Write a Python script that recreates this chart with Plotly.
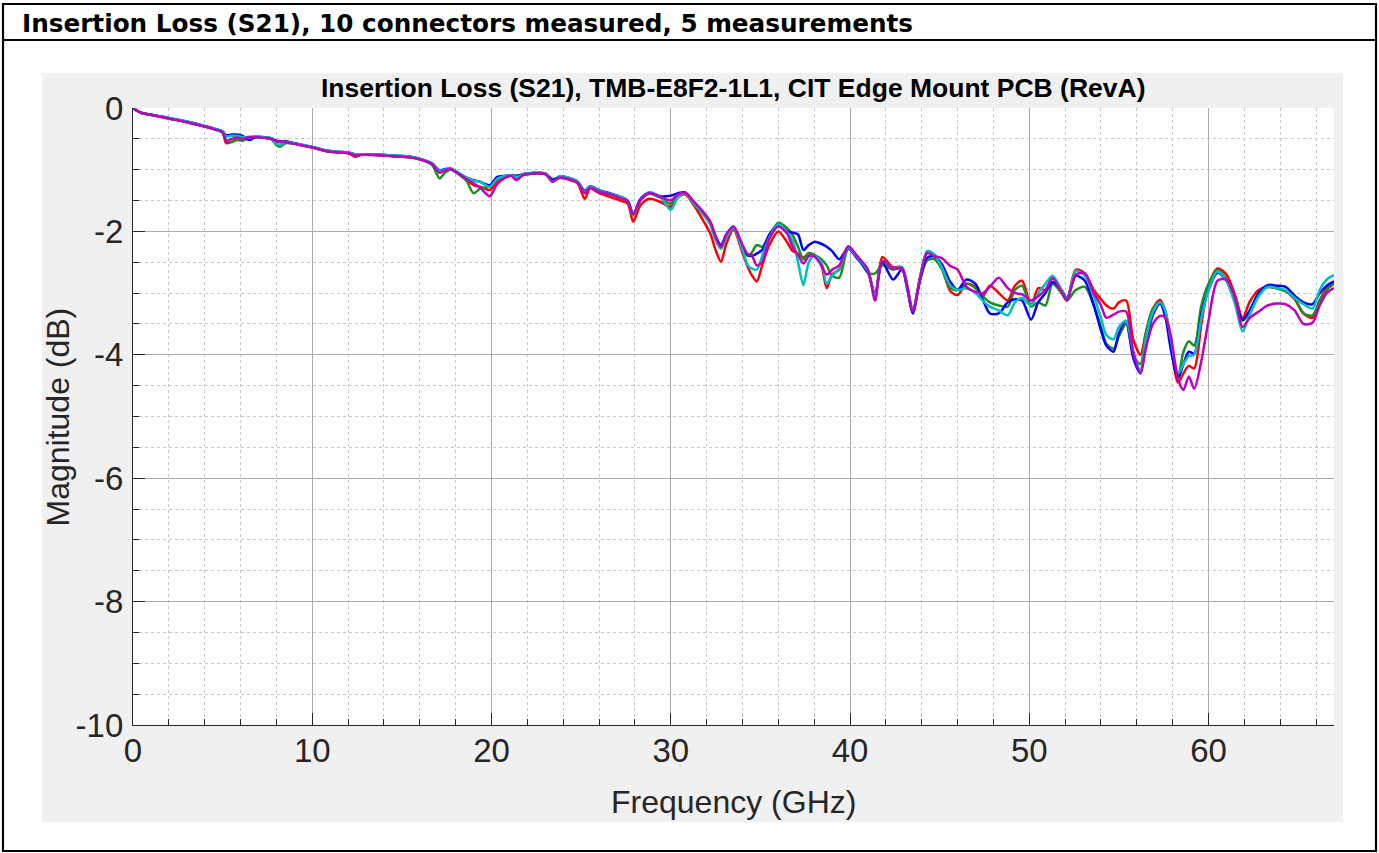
import plotly.graph_objects as go

# ---------------- data ----------------
freq_ghz = [0.0, 0.2, 0.5, 1.0, 2.0, 3.0, 4.0, 4.6, 5.0, 5.2,
            5.5, 5.8, 6.1, 6.5, 6.8, 7.2, 7.7, 8.0, 8.2, 8.5,
            9.0, 10.0, 10.8, 11.5, 12.0, 12.4, 12.7, 13.5, 14.5, 15.5,
            16.2, 16.7, 17.1, 17.4, 17.7, 18.2, 18.6, 19.0, 19.4, 19.9,
            20.3, 20.7, 21.1, 21.4, 21.8, 22.4, 23.0, 23.4, 23.8, 24.3,
            24.8, 25.2, 25.5, 26.0, 26.6, 27.2, 27.6, 27.9, 28.3, 28.8,
            29.4, 30.0, 30.4, 30.8, 31.3, 31.8, 32.2, 32.5, 32.8, 33.1,
            33.5, 34.0, 34.3, 34.5, 34.8, 35.1, 35.5, 36.0, 36.5, 36.8,
            37.1, 37.4, 37.7, 38.0, 38.4, 38.7, 39.0, 39.4, 39.9, 40.4,
            41.0, 41.4, 41.8, 42.4, 42.9, 43.2, 43.5, 43.9, 44.3, 44.7,
            45.1, 45.6, 46.0, 46.5, 47.0, 47.4, 47.8, 48.3, 48.8, 49.2,
            49.6, 50.1, 50.5, 50.9, 51.3, 51.8, 52.1, 52.6, 53.1, 53.6,
            54.0, 54.3, 54.7, 55.0, 55.4, 55.8, 56.2, 56.5, 56.9, 57.3,
            57.6, 57.9, 58.3, 58.6, 58.9, 59.2, 59.6, 60.0, 60.5, 61.0,
            61.5, 61.9, 62.3, 62.8, 63.3, 63.8, 64.3, 64.8, 65.3, 65.8,
            66.2, 66.6, 67.0]

s21_red = [0, -0.04, -0.08, -0.11, -0.17, -0.23, -0.30, -0.35, -0.40, -0.57,
           -0.55, -0.50, -0.48, -0.47, -0.47, -0.48, -0.50, -0.56, -0.54, -0.55,
           -0.58, -0.64, -0.70, -0.72, -0.73, -0.79, -0.76, -0.76, -0.78, -0.80,
           -0.85, -0.91, -1.03, -1.01, -0.99, -1.07, -1.16, -1.25, -1.28, -1.33,
           -1.20, -1.13, -1.10, -1.13, -1.08, -1.06, -1.07, -1.17, -1.13, -1.16,
           -1.22, -1.47, -1.30, -1.38, -1.44, -1.50, -1.55, -1.84, -1.58, -1.47,
           -1.52, -1.60, -1.45, -1.40, -1.58, -1.82, -2.03, -2.30, -2.49, -2.20,
           -1.97, -2.35, -2.58, -2.70, -2.81, -2.55, -2.22, -2.00, -2.18, -2.32,
           -2.36, -2.42, -2.36, -2.38, -2.55, -2.92, -2.70, -2.62, -2.28, -2.42,
           -2.64, -3.05, -2.42, -2.58, -2.58, -2.90, -3.32, -2.75, -2.35, -2.40,
           -2.57, -2.97, -3.03, -2.85, -2.90, -3.05, -2.88, -3.00, -3.12, -2.88,
           -2.80, -3.20, -2.92, -2.95, -2.76, -2.95, -3.10, -2.62, -2.68, -2.95,
           -3.10, -3.20, -3.25, -3.15, -3.12, -3.75, -4.00, -3.65, -3.25, -3.11,
           -3.30, -3.85, -4.45, -4.30, -4.18, -4.22, -3.50, -2.88, -2.60, -2.70,
           -3.05, -3.40, -3.14, -2.95, -2.90, -2.92, -2.97, -3.10, -3.33, -3.40,
           -3.12, -2.92, -2.84]

s21_green = [0, -0.04, -0.08, -0.11, -0.17, -0.23, -0.30, -0.35, -0.40, -0.52,
             -0.55, -0.52, -0.53, -0.48, -0.47, -0.48, -0.50, -0.60, -0.63, -0.57,
             -0.58, -0.64, -0.70, -0.72, -0.73, -0.76, -0.76, -0.76, -0.78, -0.80,
             -0.85, -0.93, -1.14, -1.05, -1.00, -1.08, -1.18, -1.38, -1.30, -1.27,
             -1.16, -1.12, -1.10, -1.10, -1.08, -1.06, -1.07, -1.15, -1.13, -1.15,
             -1.21, -1.36, -1.29, -1.36, -1.40, -1.45, -1.52, -1.74, -1.50, -1.39,
             -1.45, -1.55, -1.42, -1.38, -1.55, -1.72, -1.88, -2.12, -2.27, -2.10,
             -1.94, -2.28, -2.40, -2.35, -2.22, -2.25, -2.08, -1.86, -1.95, -2.06,
             -2.25, -2.45, -2.35, -2.38, -2.45, -2.55, -2.72, -2.75, -2.28, -2.40,
             -2.67, -2.68, -2.55, -2.62, -2.60, -2.90, -3.28, -2.80, -2.47, -2.45,
             -2.60, -2.92, -2.95, -2.85, -2.92, -3.05, -3.15, -3.20, -3.22, -2.95,
             -2.88, -3.22, -3.15, -3.20, -2.85, -3.00, -3.12, -2.95, -2.90, -3.20,
             -3.55, -3.82, -3.90, -3.70, -3.50, -4.00, -4.15, -3.65, -3.25, -3.15,
             -3.35, -3.85, -4.35, -3.95, -3.78, -3.85, -3.20, -2.85, -2.62, -2.78,
             -3.10, -3.45, -3.30, -3.00, -2.90, -2.92, -2.97, -3.08, -3.33, -3.36,
             -3.12, -2.95, -2.84]

s21_blue = [0, -0.04, -0.08, -0.11, -0.16, -0.22, -0.29, -0.34, -0.38, -0.44,
            -0.43, -0.43, -0.45, -0.52, -0.47, -0.47, -0.49, -0.53, -0.55, -0.54,
            -0.57, -0.63, -0.69, -0.71, -0.72, -0.75, -0.75, -0.75, -0.77, -0.79,
            -0.84, -0.90, -1.01, -0.99, -0.98, -1.06, -1.13, -1.17, -1.20, -1.25,
            -1.12, -1.10, -1.09, -1.10, -1.07, -1.05, -1.06, -1.17, -1.11, -1.13,
            -1.19, -1.34, -1.27, -1.33, -1.38, -1.44, -1.50, -1.72, -1.48, -1.37,
            -1.43, -1.42, -1.38, -1.37, -1.53, -1.70, -1.85, -2.08, -2.22, -2.05,
            -1.92, -2.25, -2.38, -2.40, -2.36, -2.30, -2.05, -1.90, -2.00, -2.02,
            -2.05, -2.30, -2.22, -2.17, -2.20, -2.25, -2.32, -2.45, -2.27, -2.44,
            -2.67, -3.02, -2.50, -2.78, -2.62, -2.95, -3.33, -2.80, -2.43, -2.40,
            -2.52, -2.82, -2.95, -2.78, -2.85, -3.10, -3.33, -3.33, -3.15, -3.10,
            -3.12, -3.43, -3.15, -3.00, -2.82, -2.95, -3.08, -2.72, -2.80, -3.20,
            -3.60, -3.85, -3.95, -3.65, -3.45, -4.05, -4.30, -3.85, -3.35, -3.17,
            -3.40, -3.92, -4.38, -4.15, -3.95, -3.98, -3.35, -2.95, -2.67, -2.80,
            -3.15, -3.43, -3.28, -3.00, -2.87, -2.88, -2.90, -3.04, -3.15, -3.18,
            -3.00, -2.88, -2.81]

s21_cyan = [0, -0.04, -0.08, -0.11, -0.16, -0.22, -0.29, -0.34, -0.38, -0.46,
            -0.45, -0.45, -0.47, -0.48, -0.46, -0.47, -0.49, -0.58, -0.60, -0.55,
            -0.57, -0.63, -0.69, -0.71, -0.72, -0.75, -0.75, -0.75, -0.77, -0.79,
            -0.84, -0.90, -1.02, -1.00, -0.98, -1.06, -1.13, -1.18, -1.20, -1.28,
            -1.15, -1.10, -1.09, -1.12, -1.07, -1.05, -1.06, -1.20, -1.11, -1.13,
            -1.19, -1.36, -1.27, -1.34, -1.39, -1.44, -1.50, -1.73, -1.50, -1.37,
            -1.44, -1.65, -1.45, -1.38, -1.55, -1.71, -1.88, -2.14, -2.28, -2.10,
            -1.94, -2.30, -2.55, -2.60, -2.62, -2.40, -2.10, -1.89, -2.02, -2.15,
            -2.50, -2.87, -2.50, -2.40, -2.50, -2.85, -2.72, -2.60, -2.26, -2.42,
            -2.64, -3.05, -2.47, -2.60, -2.58, -2.90, -3.28, -2.75, -2.32, -2.37,
            -2.57, -2.88, -2.95, -2.92, -3.00, -3.12, -3.22, -3.28, -3.36, -3.15,
            -3.08, -3.20, -3.00, -2.85, -2.72, -2.95, -3.10, -2.64, -2.72, -3.05,
            -3.40, -3.68, -3.75, -3.55, -3.45, -3.95, -4.25, -3.75, -3.30, -3.15,
            -3.30, -3.75, -4.30, -4.15, -4.02, -4.00, -3.40, -2.95, -2.65, -2.80,
            -3.20, -3.62, -3.35, -3.05, -2.90, -2.92, -2.95, -3.08, -3.18, -3.25,
            -2.95, -2.78, -2.71]

s21_magenta = [0, -0.04, -0.08, -0.11, -0.17, -0.23, -0.30, -0.35, -0.39, -0.53,
               -0.50, -0.48, -0.50, -0.47, -0.47, -0.48, -0.50, -0.54, -0.55, -0.55,
               -0.58, -0.64, -0.70, -0.72, -0.73, -0.77, -0.76, -0.76, -0.78, -0.80,
               -0.85, -0.91, -1.05, -1.01, -0.99, -1.07, -1.15, -1.22, -1.30, -1.43,
               -1.24, -1.14, -1.10, -1.17, -1.08, -1.06, -1.07, -1.19, -1.13, -1.15,
               -1.21, -1.38, -1.29, -1.36, -1.40, -1.46, -1.51, -1.72, -1.50, -1.38,
               -1.44, -1.50, -1.40, -1.37, -1.52, -1.68, -1.84, -2.08, -2.25, -2.05,
               -1.92, -2.22, -2.37, -2.38, -2.55, -2.50, -2.12, -1.92, -2.04, -2.25,
               -2.38, -2.52, -2.40, -2.40, -2.55, -2.70, -2.62, -2.55, -2.24, -2.40,
               -2.62, -3.12, -2.48, -2.60, -2.60, -2.90, -3.30, -2.78, -2.35, -2.40,
               -2.43, -2.56, -2.62, -2.90, -2.98, -3.00, -2.90, -2.75, -2.92, -3.00,
               -3.02, -3.12, -3.05, -2.95, -2.76, -2.98, -3.12, -2.70, -2.68, -3.00,
               -3.20, -3.40, -3.35, -3.30, -3.30, -3.95, -4.30, -3.90, -3.50, -3.37,
               -3.40, -3.70, -4.40, -4.57, -4.35, -4.55, -4.10, -3.45, -2.80, -2.78,
               -3.10, -3.55, -3.40, -3.30, -3.20, -3.17, -3.18, -3.28, -3.50, -3.48,
               -3.20, -3.00, -2.92]

series_names = ["Meas 1", "Meas 2", "Meas 3", "Meas 4", "Meas 5"]
series_values = [s21_red, s21_green, s21_blue, s21_cyan, s21_magenta]
series_colors = ["#FF0000", "#1E8C1E", "#0000FF", "#00BFBF", "#BF00BF"]

x_tick_values = [0, 10, 20, 30, 40, 50, 60]
x_tick_labels = ["0", "10", "20", "30", "40", "50", "60"]
y_tick_values = [0, -2, -4, -6, -8, -10]
y_tick_labels = ["0", "-2", "-4", "-6", "-8", "-10"]

header_text = "Insertion Loss (S21), 10 connectors measured, 5 measurements"
chart_title = "Insertion Loss (S21), TMB-E8F2-1L1, CIT Edge Mount PCB (RevA)"
x_title = "Frequency (GHz)"
y_title = "Magnitude (dB)"

for v in series_values:
    assert len(v) == len(freq_ghz)

# ---------------- figure ----------------
W, H = 1379, 853
L, R, T, B = 133, 1334, 108, 725          # plot area in page pixels
PW, PH = R - L, B - T


def px(xp):
    """page x pixel -> paper coordinate"""
    return (xp - L) / PW


def py(yp):
    """page y pixel -> paper coordinate"""
    return (B - yp) / PH


fig = go.Figure()
for name, vals, col in zip(series_names, series_values, series_colors):
    fig.add_trace(go.Scatter(
        x=freq_ghz, y=vals, name=name, mode="lines",
        line=dict(color=col, width=2.5, shape="spline", smoothing=0.8),
        showlegend=False, hoverinfo="skip"))

axis_common = dict(
    ticks="inside", ticklen=12, tickwidth=1.3, tickcolor="#262626",
    showline=True, linecolor="#262626", linewidth=1.3,
    showgrid=True, gridcolor="#ABABAB", gridwidth=1.3,
    zeroline=False,
    tickfont=dict(family="Liberation Sans, Arial", size=33, color="#262626"),
)

fig.update_xaxes(
    range=[0, 67], tickvals=x_tick_values, ticktext=x_tick_labels,
    ticklabelstandoff=-4,
    minor=dict(dtick=2, tick0=0, ticks="inside", ticklen=6, tickcolor="#262626",
               showgrid=True, gridcolor="#C8C8C8", griddash="dot", gridwidth=1),
    **axis_common)
fig.update_yaxes(
    range=[-10, 0], tickvals=y_tick_values, ticktext=y_tick_labels,
    ticklabelstandoff=2,
    minor=dict(dtick=0.5, tick0=0, ticks="inside", ticklen=6, tickcolor="#262626",
               showgrid=True, gridcolor="#C8C8C8", griddash="dot", gridwidth=1),
    **axis_common)

shapes = [
    # grey MATLAB figure panel
    dict(type="rect", xref="paper", yref="paper", layer="below",
         x0=px(42), x1=px(1343), y0=py(822), y1=py(73),
         fillcolor="#F0F0F0", line=dict(width=0)),
    # white axes background
    dict(type="rect", xref="paper", yref="paper", layer="below",
         x0=0, x1=1, y0=0, y1=1, fillcolor="white", line=dict(width=0)),
    # outer frame
    dict(type="rect", xref="paper", yref="paper", layer="above",
         x0=px(3), x1=px(1376), y0=py(851), y1=py(4),
         line=dict(color="black", width=2.2), fillcolor="rgba(0,0,0,0)"),
    # header divider
    dict(type="line", xref="paper", yref="paper", layer="above",
         x0=px(3), x1=px(1376), y0=py(40), y1=py(40),
         line=dict(color="black", width=2.2)),
]

annotations = [
    dict(text=header_text, xref="paper", yref="paper", x=px(20), y=py(23),
         xanchor="left", yanchor="middle", showarrow=False,
         font=dict(family="DejaVu Sans", size=24.7, color="black", weight="bold")),
    dict(text=chart_title, xref="paper", yref="paper", x=0.5, y=py(88),
         xanchor="center", yanchor="middle", showarrow=False,
         font=dict(family="Liberation Sans, Arial", size=26.5, color="black", weight="bold")),
    dict(text=x_title, xref="paper", yref="paper", x=0.5, y=py(802),
         xanchor="center", yanchor="middle", showarrow=False,
         font=dict(family="Liberation Sans, Arial", size=32, color="#262626")),
    dict(text=y_title, xref="paper", yref="paper", x=px(57), y=0.5, textangle=-90,
         xanchor="center", yanchor="middle", showarrow=False,
         font=dict(family="Liberation Sans, Arial", size=32, color="#262626")),
]

fig.update_layout(
    width=W, height=H,
    margin=dict(l=L, r=W - R, t=T, b=H - B, pad=0),
    paper_bgcolor="white", plot_bgcolor="white",
    shapes=shapes, annotations=annotations, showlegend=False,
)

# remove the browser's default 8px body margin so the figure fills the window
fig.write_html(
    "out.html",
    config={"displayModeBar": False},
    post_script="document.body.style.margin='0';document.body.style.overflow='hidden';",
)
